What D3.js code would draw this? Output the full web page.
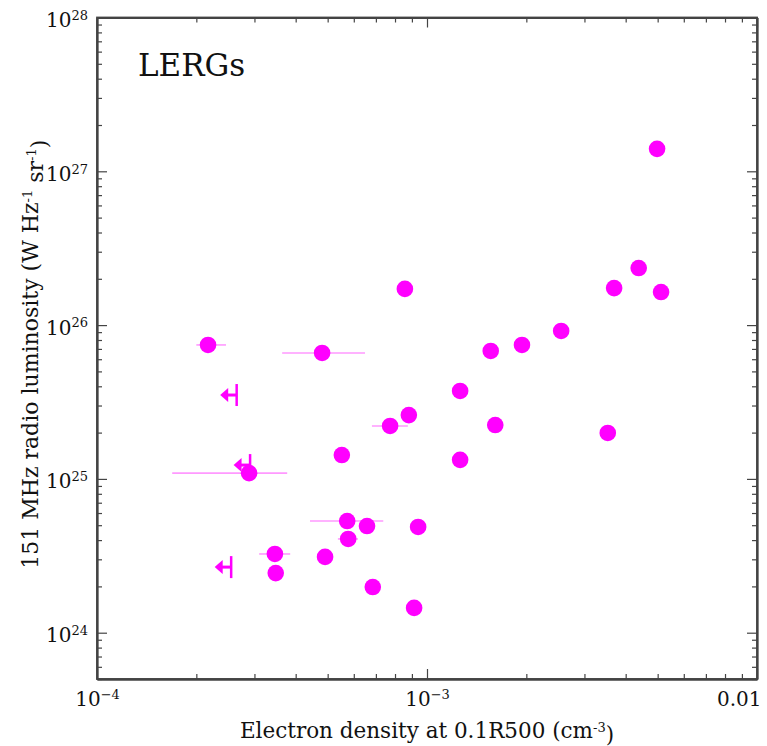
<!DOCTYPE html>
<html lang="en">
<head>
    <meta charset="UTF-8">
    <title>LERGs</title>
    <script src="https://d3js.org/d3.v7.min.js"></script>
    <style>
        body {
            margin: 0;
            padding: 0;
            background: #fff;
        }
        text {
            font-family: "DejaVu Serif", serif;
            fill: #111;
        }
        .axis path, .axis line {
            stroke: #444;
        }
        .axis path {
            stroke-width: 1.8px;
        }
    </style>
</head>
<body>
    <svg width="767" height="746"></svg>
    <script>
        // Detected sources: electron density (cm^-3) and 151 MHz luminosity (W Hz^-1 sr^-1)
        const density = [4.98e-3, 4.38e-3, 3.69e-3, 5.12e-3, 8.57e-4, 2.17e-4, 4.81e-4, 2.55e-3,
            1.94e-3, 1.56e-3, 1.26e-3, 8.81e-4, 7.73e-4, 1.61e-3, 3.53e-3, 5.52e-4, 1.26e-3,
            2.89e-4, 5.73e-4, 6.58e-4, 9.4e-4, 5.77e-4, 4.91e-4, 3.46e-4, 3.48e-4, 6.85e-4, 9.14e-4];
        const luminosity = [1.40e27, 2.35e26, 1.74e26, 1.64e26, 1.72e26, 7.43e25, 6.59e25, 9.16e25,
            7.43e25, 6.79e25, 3.73e25, 2.60e25, 2.21e25, 2.24e25, 1.99e25, 1.43e25, 1.33e25,
            1.09e25, 5.32e24, 4.94e24, 4.87e24, 4.07e24, 3.11e24, 3.25e24, 2.44e24, 1.98e24, 1.45e24];
        // Density error ranges (null = no bar)
        const densityLow = [null, null, null, null, null, 2.0e-4, 3.64e-4, null,
            null, null, null, null, 6.81e-4, null, null, null, null,
            1.69e-4, 4.42e-4, null, null, 5.37e-4, null, 3.10e-4, null, null, null];
        const densityHigh = [null, null, null, null, null, 2.46e-4, 6.49e-4, null,
            null, null, null, null, 8.75e-4, null, null, null, null,
            3.77e-4, 7.37e-4, null, null, 6.18e-4, null, 3.85e-4, null, null, null];

        // Upper limits on density
        const limitDensity = [2.65e-4, 2.91e-4, 2.55e-4];
        const limitLuminosity = [3.51e25, 1.23e25, 2.67e24];

        const xMajor = [1e-4, 1e-3, 1e-2];
        const xMajorLabels = [["10", "\u22124"], ["10", "\u22123"], ["0.01", ""]];
        const yMajor = [1e24, 1e25, 1e26, 1e27, 1e28];
        const yMajorLabels = [["10", "24"], ["10", "25"], ["10", "26"], ["10", "27"], ["10", "28"]];

        const svg = d3.select("svg");
        const plotLeft = 97, plotRight = 757, plotTop = 17.5, plotBottom = 679;

        const x = d3.scaleLog().domain([1e-4, 1e-2]).range([plotLeft, plotRight]);
        const y = d3.scaleLog().domain([5e23, 1e28]).range([plotBottom, plotTop]);

        // minor ticks 2..9 per decade
        function minorTicks(scale) {
            const [a, b] = scale.domain();
            const out = [];
            for (let e = Math.floor(Math.log10(a)); e < Math.ceil(Math.log10(b)); e++) {
                for (let m = 2; m <= 9; m++) {
                    const v = m * Math.pow(10, e);
                    if (v > a && v < b) out.push(v);
                }
            }
            return out;
        }

        function addAxis(axisFn, scale, tx, ty, values, size, labels) {
            const g = svg.append("g")
                .attr("class", "axis")
                .attr("transform", `translate(${tx},${ty})`)
                .call(axisFn(scale).tickValues(values).tickSizeInner(size).tickSizeOuter(0).tickPadding(8));
            g.selectAll("line").attr("stroke-width", 1.2);
            if (!labels) {
                g.selectAll("text").remove();
            }
            return g;
        }

        // minor ticks on all four sides
        addAxis(d3.axisBottom, x, 0, plotBottom, minorTicks(x), -5, false);
        addAxis(d3.axisTop, x, 0, plotTop, minorTicks(x), -5, false);
        addAxis(d3.axisLeft, y, plotLeft, 0, minorTicks(y), -5, false);
        addAxis(d3.axisRight, y, plotRight, 0, minorTicks(y), -5, false);

        // major ticks
        const xb = addAxis(d3.axisBottom, x, 0, plotBottom, xMajor, -10, true);
        addAxis(d3.axisTop, x, 0, plotTop, xMajor, -10, false);
        const yl = addAxis(d3.axisLeft, y, plotLeft, 0, yMajor, -10, true);
        addAxis(d3.axisRight, y, plotRight, 0, yMajor, -10, false);

        function powLabel(sel, labels) {
            sel.each(function (d, i) {
                const t = d3.select(this).text(null);
                t.append("tspan").text(labels[i][0]);
                if (labels[i][1]) {
                    t.append("tspan").attr("dy", "-0.55em").attr("font-size", "13px").text(labels[i][1]);
                }
            });
        }

        xb.selectAll("text")
            .attr("font-size", "20px")
            .attr("dy", "0.95em")
            .call(powLabel, xMajorLabels);
        xb.selectAll(".tick").filter(d => d === 1e-2).select("text")
            .attr("text-anchor", "end").attr("dx", "4px");

        yl.selectAll("text")
            .attr("font-size", "20px")
            .attr("dy", "0.45em")
            .attr("dx", "-1px")
            .call(powLabel, yMajorLabels);

        // frame
        svg.append("rect")
            .attr("x", plotLeft).attr("y", plotTop)
            .attr("width", plotRight - plotLeft).attr("height", plotBottom - plotTop)
            .attr("fill", "none").attr("stroke", "#444").attr("stroke-width", 1.8);

        // axis titles
        const xt = svg.append("text")
            .attr("x", (plotLeft + plotRight) / 2).attr("y", 738)
            .attr("text-anchor", "middle").attr("font-size", "21.5px");
        xt.append("tspan").text("Electron density at 0.1R500 (cm");
        xt.append("tspan").attr("dy", "-0.5em").attr("font-size", "13px").text("-3");
        xt.append("tspan").attr("dy", "0.5em").text(")");

        const yt = svg.append("text")
            .attr("transform", `translate(38,${(plotTop + plotBottom) / 2 + 6}) rotate(-90)`)
            .attr("text-anchor", "middle").attr("font-size", "22px");
        yt.append("tspan").text("151 MHz radio luminosity (W Hz");
        yt.append("tspan").attr("dy", "-0.5em").attr("font-size", "13px").text("-1");
        yt.append("tspan").attr("dy", "0.5em").text(" sr");
        yt.append("tspan").attr("dy", "-0.5em").attr("font-size", "13px").text("-1");
        yt.append("tspan").attr("dy", "0.5em").text(")");

        svg.append("text")
            .attr("x", 138).attr("y", 76)
            .attr("font-size", "31px")
            .text("LERGs");

        const idx = d3.range(density.length);

        // error bars
        svg.append("g")
            .selectAll("line")
            .data(idx.filter(i => densityLow[i] !== null))
            .join("line")
            .attr("x1", i => x(densityLow[i]))
            .attr("x2", i => x(densityHigh[i]))
            .attr("y1", i => y(luminosity[i]))
            .attr("y2", i => y(luminosity[i]))
            .attr("stroke", "#ff99ff")
            .attr("stroke-width", 1.6);

        // upper limits: cap + leftward arrow
        const lim = svg.append("g")
            .selectAll("g")
            .data(d3.range(limitDensity.length))
            .join("g")
            .attr("transform", i => `translate(${x(limitDensity[i])},${y(limitLuminosity[i])})`);
        lim.append("line")
            .attr("x1", 0).attr("x2", 0).attr("y1", -11).attr("y2", 11)
            .attr("stroke", "#ff00ff").attr("stroke-width", 2.5);
        lim.append("line")
            .attr("x1", 0).attr("x2", -10).attr("y1", 0).attr("y2", 0)
            .attr("stroke", "#ff00ff").attr("stroke-width", 3);
        lim.append("path")
            .attr("d", "M-16.5,0L-8.5,-7L-8.5,7Z")
            .attr("fill", "#ff00ff");

        // points
        svg.append("g")
            .selectAll("circle")
            .data(idx)
            .join("circle")
            .attr("cx", i => x(density[i]))
            .attr("cy", i => y(luminosity[i]))
            .attr("r", 8.3)
            .attr("fill", "#ff00ff");
    </script>
</body>
</html>
